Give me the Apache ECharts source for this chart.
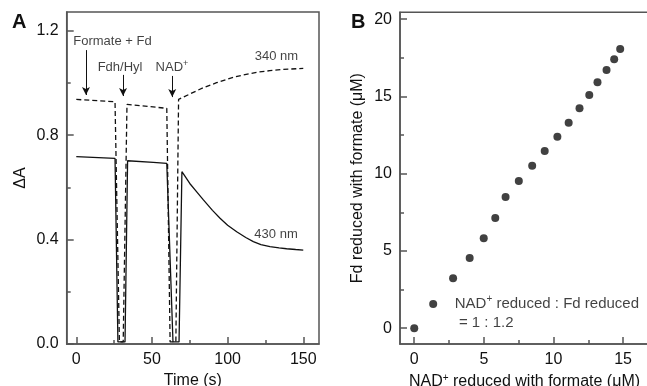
<!DOCTYPE html>
<html><head><meta charset="utf-8">
<script src="https://cdn.jsdelivr.net/npm/echarts@6/dist/echarts.min.js"></script>
<style>html,body{margin:0;padding:0;background:#fff}#c{width:647px;height:386px}</style>
</head><body><div id="c"></div>
<script>
// Panel A: absorbance traces
const t340 = [0, 25.6, 28.5, 31, 33.5, 59.8, 62, 65.8, 67.6, 75.1, 83.9, 92.7, 101.5, 110.3, 119.2, 127.9, 136.7, 150];
const a340 = [0.937, 0.928, 0.008, 0.008, 0.918, 0.903, 0.008, 0.008, 0.937, 0.958, 0.982, 1.001, 1.018, 1.031, 1.041, 1.047, 1.052, 1.056];
const t430 = [0, 25.6, 27.5, 32.2, 33.9, 50.9, 59.8, 63.9, 67.9, 69.8, 75, 80, 84, 90, 95, 100, 106, 112, 117, 122, 128, 134, 139, 145, 150];
const a430 = [0.718, 0.711, 0.008, 0.008, 0.702, 0.696, 0.692, 0.008, 0.008, 0.660, 0.615, 0.580, 0.552, 0.512, 0.482, 0.455, 0.430, 0.408, 0.392, 0.381, 0.373, 0.368, 0.365, 0.362, 0.360];
const arrowX = [6.4, 30.9, 63.4];
const arrowTop = [1.126, 1.031, 1.027];
const arrowTip = [0.954, 0.950, 0.946];
const xTicksA = [0, 50, 100, 150];
const xMinorA = [25, 75, 125];
const yTicksA = [0, 0.4, 0.8, 1.2];
const yMinorA = [0.2, 0.6, 1.0];
// Panel B: stoichiometry
const nadReduced = [0, 1.36, 2.79, 3.98, 4.99, 5.82, 6.56, 7.51, 8.47, 9.37, 10.28, 11.09, 11.87, 12.57, 13.16, 13.81, 14.36, 14.79];
const fdReduced = [0, 1.57, 3.23, 4.55, 5.82, 7.13, 8.49, 9.53, 10.52, 11.47, 12.39, 13.30, 14.23, 15.09, 15.91, 16.71, 17.40, 18.07];
const xTicksB = [0, 5, 10, 15];
const xMinorB = [2.5, 7.5, 12.5];
const yTicksB = [0, 5, 10, 15, 20];
const yMinorB = [2.5, 7.5, 12.5, 17.5];

const FONT = '"Liberation Sans", Arial, Helvetica, sans-serif';
const INK = '#111';
const AX = '#555';

function zip(a, b) { return a.map((v, i) => [v, b[i]]); }

function mainAxis(grid, min, max, ticks, fmt, extra) {
  return Object.assign({
    type: 'value', gridIndex: grid, min: min, max: max,
    axisLine: { show: true, onZero: false, lineStyle: { color: AX, width: 1.5 } },
    axisTick: { show: true, inside: true, length: 7, customValues: ticks, lineStyle: { color: AX, width: 1.5 } },
    axisLabel: { show: true, customValues: ticks, formatter: fmt, color: INK, fontSize: 16, fontFamily: FONT, margin: 8 },
    splitLine: { show: false },
    nameTextStyle: { color: INK, fontSize: 16, fontFamily: FONT, rich: { sup: { fontSize: 10, verticalAlign: 'top', padding: [0, 0, 8, 0], fontFamily: FONT, color: INK } } }
  }, extra || {});
}
function minorAxis(grid, min, max, ticks, pos) {
  return {
    type: 'value', gridIndex: grid, min: min, max: max, position: pos,
    axisLine: { show: false, onZero: false },
    axisTick: { show: true, inside: true, length: 4, customValues: ticks, lineStyle: { color: AX, width: 1.5 } },
    axisLabel: { show: false },
    splitLine: { show: false }
  };
}

const supRich = { sup: { fontSize: 9, verticalAlign: 'top', padding: [0, 0, 7, 0], fontFamily: FONT, color: INK } };
const labelsA = [
  [23.9, 1.161, 'Formate + Fd'],
  [28.9, 1.061, 'Fdh/Hyl'],
  [63.2, 1.061, 'NAD{sup|+}'],
  [132.3, 1.100, '340 nm'],
  [132.0, 0.421, '430 nm']
];

const chart = echarts.init(document.getElementById('c'), null, { renderer: 'canvas' });
chart.setOption({
  animation: false,
  backgroundColor: '#fff',
  grid: [
    { left: 66.7, top: 12, right: 328, bottom: 42, show: true, borderColor: AX, borderWidth: 1.5, containLabel: false, outerBoundsMode: 'none' },
    { left: 400, top: 12.3, right: -2, bottom: 42, show: true, borderColor: AX, borderWidth: 1.5, containLabel: false, outerBoundsMode: 'none' }
  ],
  xAxis: [
    mainAxis(0, -6.34, 160.4, xTicksA, v => String(v), { name: 'Time (s)', nameLocation: 'middle', nameGap: 28, position: 'bottom' }),
    minorAxis(0, -6.34, 160.4, xMinorA, 'bottom'),
    mainAxis(1, -1.023, 16.86, xTicksB, v => String(v), { name: 'NAD{sup|+} reduced with formate (μM)', nameLocation: 'middle', nameGap: 28, position: 'bottom' }),
    minorAxis(1, -1.023, 16.86, xMinorB, 'bottom')
  ],
  yAxis: [
    mainAxis(0, 0, 1.272, yTicksA, v => v.toFixed(1), { name: 'ΔA', nameLocation: 'middle', nameGap: 38, position: 'left' }),
    minorAxis(0, 0, 1.272, yMinorA, 'left'),
    mainAxis(1, -1.02, 20.44, yTicksB, v => String(v), { name: 'Fd reduced with formate (μM)', nameLocation: 'middle', nameGap: 34, position: 'left' }),
    minorAxis(1, -1.02, 20.44, yMinorB, 'left')
  ],
  series: [
    {
      type: 'line', xAxisIndex: 0, yAxisIndex: 0, data: zip(t340, a340), symbol: 'none', silent: true,
      lineStyle: { color: INK, width: 1.3, type: [5, 3] },
      markLine: {
        silent: true, symbol: ['none', 'arrow'], symbolSize: [6, 8],
        label: { show: false },
        lineStyle: { color: INK, width: 1, type: 'solid' },
        data: arrowX.map((x, i) => [{ coord: [x, arrowTop[i]] }, { coord: [x, arrowTip[i]] }])
      }
    },
    {
      type: 'line', xAxisIndex: 0, yAxisIndex: 0, data: zip(t430, a430), symbol: 'none', silent: true,
      lineStyle: { color: INK, width: 1.3 }
    },
    {
      type: 'scatter', xAxisIndex: 0, yAxisIndex: 0, data: labelsA, symbolSize: 0, silent: true,
      label: { show: true, position: 'inside', formatter: p => p.data[2], color: INK, fontSize: 13, fontFamily: FONT, rich: supRich }
    },
    {
      type: 'scatter', xAxisIndex: 2, yAxisIndex: 2, data: zip(nadReduced, fdReduced), symbolSize: 8, silent: true,
      itemStyle: { color: '#111' }
    },
    {
      type: 'scatter', xAxisIndex: 2, yAxisIndex: 2, data: [[2.91, 0.94, 'NAD{sup|+} reduced : Fd reduced\n = 1 : 1.2']], symbolSize: 0, silent: true,
      label: { show: true, position: [0, 0], align: 'left', verticalAlign: 'middle', formatter: p => p.data[2], color: INK, fontSize: 15, lineHeight: 19, fontFamily: FONT, rich: { sup: { fontSize: 10, verticalAlign: 'top', padding: [0, 0, 8, 0], fontFamily: FONT, color: INK } } }
    }
  ],
  graphic: [
    { type: 'text', left: 12, top: 12, style: { text: 'A', font: 'bold 20px ' + FONT, fill: INK } },
    { type: 'text', left: 351, top: 12, style: { text: 'B', font: 'bold 20px ' + FONT, fill: INK } }
  ]
});
</script>
</body></html>
